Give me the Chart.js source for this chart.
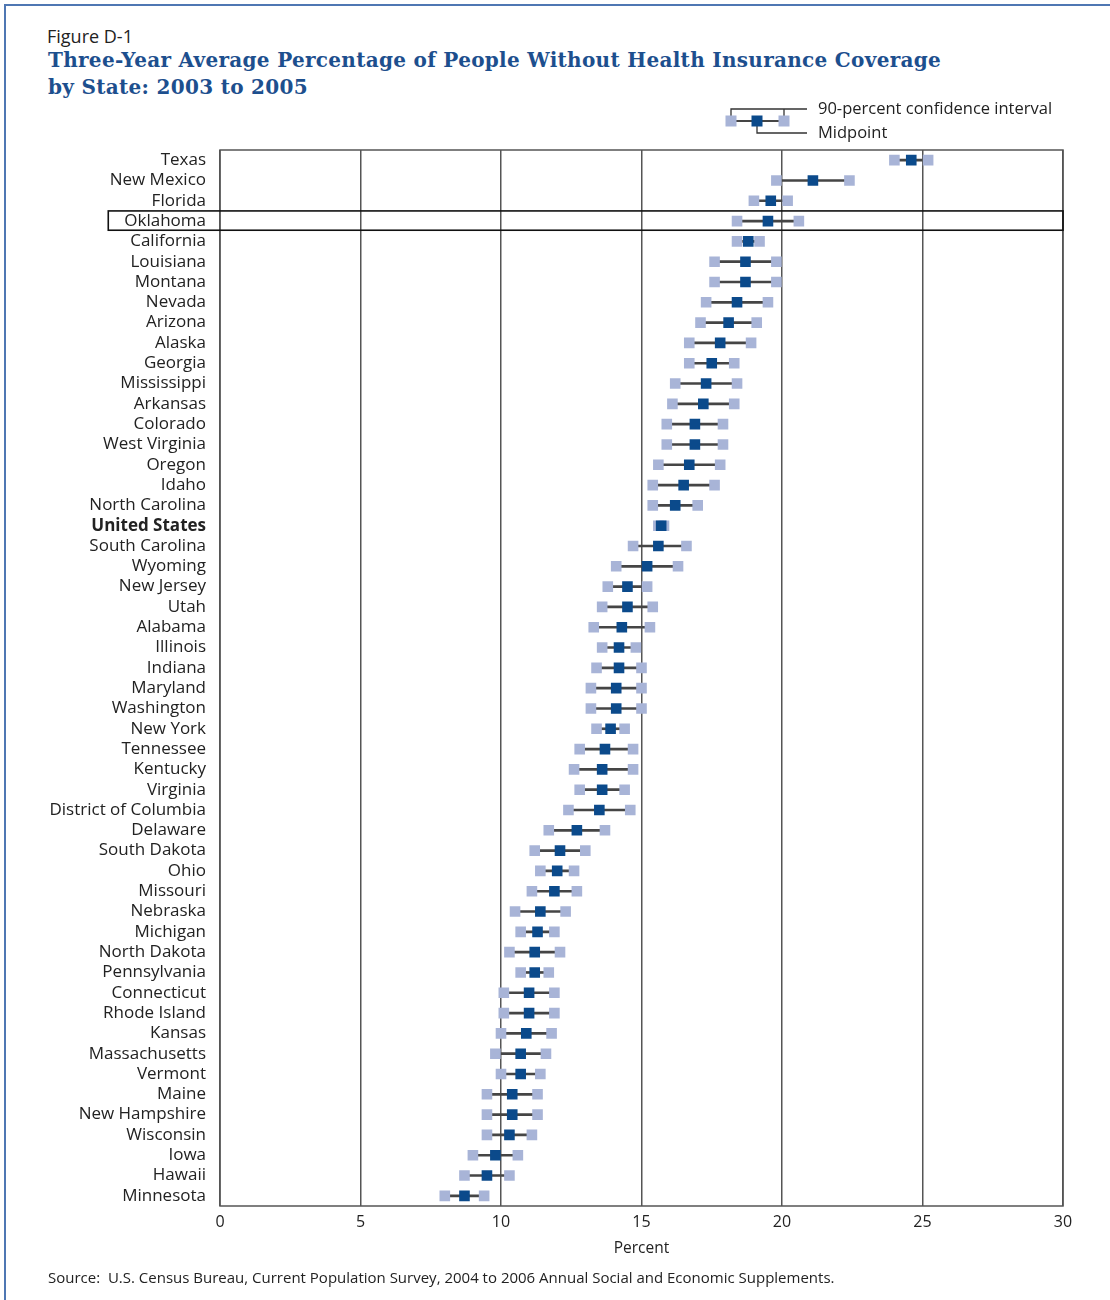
<!DOCTYPE html>
<html lang="en">
<head>
  <meta charset="UTF-8" />
  <title>Figure D-1</title>
  <script src="https://cdn.jsdelivr.net/npm/chart.js"></script>
  <style>
    body { margin: 0; background: #fff; font-family: "Open Sans", sans-serif; }
    .page { position: relative; width: 1110px; height: 1300px; overflow: hidden; }
    .frame { position: absolute; left: 4px; top: 4px; width: 1200px; height: 1400px; border-top: 2px solid #4f77b3; border-left: 2px solid #4f77b3; }
    .fig { position: absolute; left: 47px; top: 24px; font-size: 18px; color: #222; }
    .title { position: absolute; left: 48px; top: 47px; font-family: "DejaVu Serif", serif; font-weight: bold; font-size: 20px; line-height: 27px; color: #1d4f8e; letter-spacing: 0.3px; }
    .source { position: absolute; left: 48px; top: 1267px; font-size: 15px; color: #222; }
    canvas { position: absolute; left: 0; top: 0; }
  </style>
</head>
<body>
<div class="page">
  <div class="frame"></div>
  <div class="fig">Figure D-1</div>
  <div class="title">Three-Year Average Percentage of People Without Health Insurance Coverage<br>by State: 2003 to 2005</div>
  <canvas id="chart" width="1110" height="1300"></canvas>
  <div class="source">Source:&nbsp; U.S. Census Bureau, Current Population Survey, 2004 to 2006 Annual Social and Economic Supplements.</div>
</div>

<script>
  const states = [
    "Texas", "New Mexico", "Florida", "Oklahoma", "California", "Louisiana", "Montana",
    "Nevada", "Arizona", "Alaska", "Georgia", "Mississippi", "Arkansas", "Colorado",
    "West Virginia", "Oregon", "Idaho", "North Carolina", "United States", "South Carolina",
    "Wyoming", "New Jersey", "Utah", "Alabama", "Illinois", "Indiana", "Maryland",
    "Washington", "New York", "Tennessee", "Kentucky", "Virginia", "District of Columbia",
    "Delaware", "South Dakota", "Ohio", "Missouri", "Nebraska", "Michigan", "North Dakota",
    "Pennsylvania", "Connecticut", "Rhode Island", "Kansas", "Massachusetts", "Vermont",
    "Maine", "New Hampshire", "Wisconsin", "Iowa", "Hawaii", "Minnesota"
  ];

  // 90-percent confidence interval bounds and midpoints, percent uninsured
  const lower = [
    24.0, 19.8, 19.0, 18.4, 18.4, 17.6, 17.6, 17.3, 17.1, 16.7, 16.7, 16.2, 16.1,
    15.9, 15.9, 15.6, 15.4, 15.4, 15.6, 14.7, 14.1, 13.8, 13.6, 13.3, 13.6, 13.4,
    13.2, 13.2, 13.4, 12.8, 12.6, 12.8, 12.4, 11.7, 11.2, 11.4, 11.1, 10.5, 10.7,
    10.3, 10.7, 10.1, 10.1, 10.0, 9.8, 10.0, 9.5, 9.5, 9.5, 9.0, 8.7, 8.0
  ];
  const midpoint = [
    24.6, 21.1, 19.6, 19.5, 18.8, 18.7, 18.7, 18.4, 18.1, 17.8, 17.5, 17.3, 17.2,
    16.9, 16.9, 16.7, 16.5, 16.2, 15.7, 15.6, 15.2, 14.5, 14.5, 14.3, 14.2, 14.2,
    14.1, 14.1, 13.9, 13.7, 13.6, 13.6, 13.5, 12.7, 12.1, 12.0, 11.9, 11.4, 11.3,
    11.2, 11.2, 11.0, 11.0, 10.9, 10.7, 10.7, 10.4, 10.4, 10.3, 9.8, 9.5, 8.7
  ];
  const upper = [
    25.2, 22.4, 20.2, 20.6, 19.2, 19.8, 19.8, 19.5, 19.1, 18.9, 18.3, 18.4, 18.3,
    17.9, 17.9, 17.8, 17.6, 17.0, 15.8, 16.6, 16.3, 15.2, 15.4, 15.3, 14.8, 15.0,
    15.0, 15.0, 14.4, 14.7, 14.7, 14.4, 14.6, 13.7, 13.0, 12.6, 12.7, 12.3, 11.9,
    12.1, 11.7, 11.9, 11.9, 11.8, 11.6, 11.4, 11.3, 11.3, 11.1, 10.6, 10.3, 9.4
  ];
  const xTicks = [0, 5, 10, 15, 20, 25, 30];
  const highlighted = "Oklahoma";

  const DARK = '#0b4a8b';
  const LIGHT = '#a8b4d7';
  const WHISKER = '#454545';
  const GRID = '#555';
  const FONT = '"Open Sans", sans-serif';
  const LABEL_SIZE = 17;

  // frame around the plot, the highlighted row box and the legend key
  const decorations = {
    id: 'decorations',
    afterDraw(chart) {
      const { ctx, chartArea, scales } = chart;
      const y = scales.y;
      ctx.save();
      ctx.strokeStyle = GRID;
      ctx.lineWidth = 1.5;
      ctx.strokeRect(chartArea.left, chartArea.top, chartArea.right - chartArea.left, chartArea.bottom - chartArea.top);

      // box round the highlighted state
      const idx = states.indexOf(highlighted);
      const band = (chartArea.bottom - chartArea.top) / states.length;
      const cy = y.getPixelForValue(idx);
      ctx.font = LABEL_SIZE + 'px ' + FONT;
      const tw = ctx.measureText(highlighted).width;
      const boxLeft = chartArea.left - 14 - tw - 16;
      ctx.strokeStyle = '#111';
      ctx.lineWidth = 1.6;
      ctx.strokeRect(boxLeft, cy - band / 2, chartArea.right - boxLeft, band - 1);

      // legend key
      const lx = 731, mx = 757, rx = 784, ky = 121;
      ctx.strokeStyle = '#333';
      ctx.lineWidth = 1.3;
      ctx.beginPath();
      ctx.moveTo(lx, ky); ctx.lineTo(lx, 109); ctx.lineTo(807, 109);
      ctx.moveTo(rx, ky); ctx.lineTo(rx, 109);
      ctx.moveTo(mx, ky); ctx.lineTo(mx, 133); ctx.lineTo(807, 133);
      ctx.stroke();
      ctx.strokeStyle = WHISKER;
      ctx.lineWidth = 2;
      ctx.beginPath(); ctx.moveTo(lx, ky); ctx.lineTo(rx, ky); ctx.stroke();
      ctx.fillStyle = LIGHT;
      ctx.fillRect(lx - 5.5, ky - 5.5, 11, 11);
      ctx.fillRect(rx - 5.5, ky - 5.5, 11, 11);
      ctx.fillStyle = DARK;
      ctx.fillRect(mx - 5.5, ky - 5.5, 11, 11);
      ctx.fillStyle = '#222';
      ctx.font = '16.5px ' + FONT;
      ctx.textBaseline = 'middle';
      ctx.fillText('90-percent confidence interval', 818, 109);
      ctx.fillText('Midpoint', 818, 133);
      ctx.restore();
    }
  };

  new Chart(document.getElementById('chart'), {
    type: 'bar',
    data: {
      labels: states,
      datasets: [
        {
          label: 'Midpoint',
          type: 'line',
          indexAxis: 'y',
          data: midpoint,
          showLine: false,
          pointStyle: 'rect',
          pointRadius: 7.5,
          pointBackgroundColor: DARK,
          pointBorderWidth: 0,
          order: 0
        },
        {
          label: 'Lower bound',
          type: 'line',
          indexAxis: 'y',
          data: lower,
          showLine: false,
          pointStyle: 'rect',
          pointRadius: 7.5,
          pointBackgroundColor: LIGHT,
          pointBorderWidth: 0,
          order: 1
        },
        {
          label: 'Upper bound',
          type: 'line',
          indexAxis: 'y',
          data: upper,
          showLine: false,
          pointStyle: 'rect',
          pointRadius: 7.5,
          pointBackgroundColor: LIGHT,
          pointBorderWidth: 0,
          order: 1
        },
        {
          label: '90-percent confidence interval',
          data: states.map((_, i) => [lower[i], upper[i]]),
          backgroundColor: WHISKER,
          barThickness: 2,
          order: 2
        }
      ]
    },
    options: {
      indexAxis: 'y',
      responsive: false,
      animation: false,
      layout: { padding: { top: 150, right: 47, left: 0, bottom: 42 } },
      plugins: { legend: { display: false }, tooltip: { enabled: false } },
      scales: {
        x: {
          type: 'linear',
          min: 0,
          max: 30,
          afterBuildTicks: (scale) => { scale.ticks = xTicks.map(v => ({ value: v })); },
          afterFit: (scale) => { scale.height = 52; },
          grid: { color: GRID, lineWidth: 1.5, drawTicks: false },
          border: { display: false },
          ticks: { color: '#222', padding: 7, font: { family: FONT, size: 16 } },
          title: { display: true, text: 'Percent', color: '#222', padding: { top: 8, bottom: 0 }, font: { family: FONT, size: 15.5 } }
        },
        y: {
          type: 'category',
          offset: true,
          afterFit: (scale) => { scale.width = 220; },
          grid: { display: false, drawTicks: false },
          border: { display: false },
          ticks: {
            autoSkip: false,
            padding: 14,
            color: '#222',
            font: (c) => ({ family: FONT, size: LABEL_SIZE, weight: states[c.index] === 'United States' ? 'bold' : 'normal' })
          }
        }
      }
    },
    plugins: [decorations]
  });
</script>
</body>
</html>
